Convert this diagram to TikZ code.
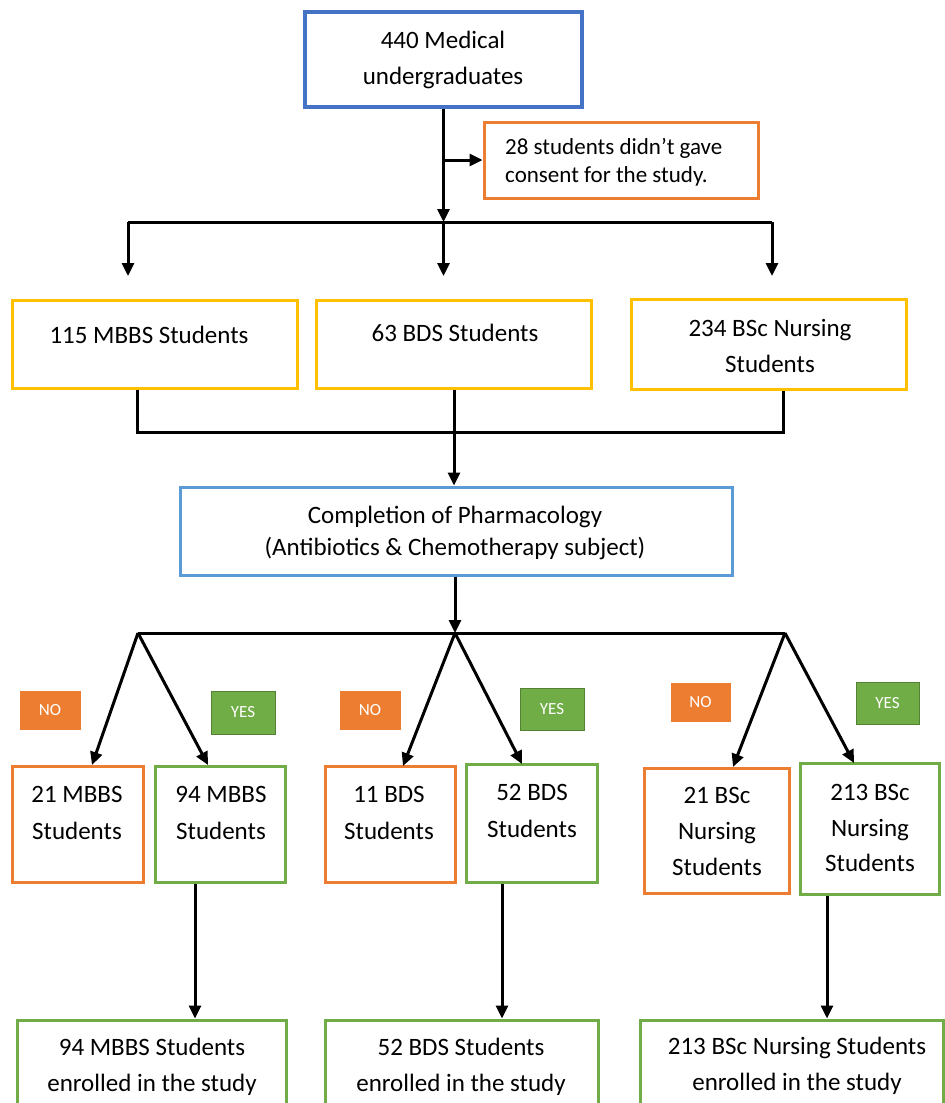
\documentclass[tikz,border=0pt]{standalone}
\usepackage{fontspec}
\setmainfont{Carlito}
\usetikzlibrary{arrows.meta}
\definecolor{cblue}{HTML}{4472C4}
\definecolor{clblue}{HTML}{5B9BD5}
\definecolor{corange}{HTML}{ED7D31}
\definecolor{cgold}{HTML}{FFC000}
\definecolor{cgreen}{HTML}{70AD47}
\definecolor{cdgreen}{HTML}{548235}
\begin{document}
\begin{tikzpicture}[x=1pt,y=-1pt,
  boxx/.style={draw, line width=3pt, inner sep=0pt, fill=white},
  txt/.style={inner sep=0pt, align=center, font=\fontsize{25}{36.5}\selectfont},
  tagno/.style={fill=corange, draw=corange, line width=1pt, inner sep=0pt, text=white, font=\fontsize{17}{20}\selectfont},
  tagyes/.style={fill=cgreen, draw=cdgreen, line width=1pt, inner sep=0pt, text=white, font=\fontsize{17}{20}\selectfont},
  link/.style={line width=3pt},
  conn/.style={line width=3pt, -{Triangle[length=13pt,width=12pt]}}]
\useasboundingbox (0,0) rectangle (945,1103);

% top
\node[boxx, draw=cblue, line width=3.5pt, minimum width=277pt, minimum height=95pt] (top) at (443.5,59.5) {};
\node[txt] (ttop) at (443,60) {440 Medical\\undergraduates};
\node[boxx, draw=corange, minimum width=274pt, minimum height=76pt] (consent) at (621,160) {};
\node[txt, anchor=west, align=left, font=\fontsize{23}{28}\selectfont] (tconsent) at (505,162) {28 students didn’t gave\\consent for the study.};

% yellow row
\node[boxx, draw=cgold, minimum width=285pt, minimum height=88pt] (y1) at (154.5,344) {};
\node[txt] (ty1) at (149,335) {115 MBBS Students};
\node[boxx, draw=cgold, minimum width=275pt, minimum height=88pt] (y2) at (453.5,344) {};
\node[txt] (ty2) at (455,333) {63 BDS Students};
\node[boxx, draw=cgold, minimum width=275pt, minimum height=90pt] (y3) at (768.5,344) {};
\node[txt] (ty3) at (770,346) {234 BSc Nursing\\Students};

% pharmacology
\node[boxx, draw=clblue, minimum width=552pt, minimum height=88pt] (pharm) at (456,531) {};
\node[txt, font=\fontsize{25}{32}\selectfont] (tpharm) at (455,533) {Completion of Pharmacology\\(Antibiotics \& Chemotherapy subject)};

% tags
\node[tagno, minimum width=60pt, minimum height=38pt] (no1) at (50,710) {NO};
\node[tagyes, minimum width=64pt, minimum height=43pt] (yes1) at (243,712.5) {YES};
\node[tagno, minimum width=60pt, minimum height=38pt] (no2) at (370,710) {NO};
\node[tagyes, minimum width=64pt, minimum height=42pt] (yes2) at (552,709) {YES};
\node[tagno, minimum width=59pt, minimum height=38pt] (no3) at (700.5,702) {NO};
\node[tagyes, minimum width=63pt, minimum height=42pt] (yes3) at (887.5,703) {YES};

% bottom row
\node[boxx, draw=corange, minimum width=131pt, minimum height=116pt] (b1) at (77.5,824) {};
\node[txt] (tb1) at (77,813) {21 MBBS\\Students};
\node[boxx, draw=cgreen, minimum width=130pt, minimum height=116pt] (b2) at (220,824) {};
\node[txt] (tb2) at (221,813) {94 MBBS\\Students};
\node[boxx, draw=corange, minimum width=130pt, minimum height=116pt] (b3) at (390,824) {};
\node[txt] (tb3) at (389,813) {11 BDS\\Students};
\node[boxx, draw=cgreen, minimum width=131pt, minimum height=118pt] (b4) at (531.5,823) {};
\node[txt] (tb4) at (532,811) {52 BDS\\Students};
\node[boxx, draw=corange, minimum width=145pt, minimum height=125pt] (b5) at (716.5,830.5) {};
\node[txt, font=\fontsize{25}{36}\selectfont] (tb5) at (717,831) {21 BSc\\Nursing\\Students};
\node[boxx, draw=cgreen, minimum width=139pt, minimum height=131pt] (b6) at (869.5,828.5) {};
\node[txt, font=\fontsize{25}{35.5}\selectfont] (tb6) at (870,828) {213 BSc\\Nursing\\Students};

% final row
\node[boxx, draw=cgreen, minimum width=269pt, minimum height=110pt] (f1) at (151.5,1075) {};
\node[txt] (tf1) at (152,1067) {94 MBBS Students\\enrolled in the study};
\node[boxx, draw=cgreen, minimum width=273pt, minimum height=110pt] (f2) at (461.5,1075) {};
\node[txt] (tf2) at (461,1067) {52 BDS Students\\enrolled in the study};
\node[boxx, draw=cgreen, minimum width=303pt, minimum height=110pt] (f3) at (791.5,1075) {};
\node[txt] (tf3) at (797,1066) {213 BSc Nursing Students\\enrolled in the study};

% coordinates
\coordinate (h1) at (0,222);
\coordinate (hl) at (128,222);
\coordinate (hr) at (772,222);
\coordinate (a1) at (128,276);
\coordinate (a3) at (772,276);
\coordinate (k1) at (137,432);
\coordinate (k2) at (454,432);
\coordinate (k3) at (783,432);
\coordinate (m1) at (138,633);
\coordinate (m2) at (455,633);
\coordinate (m3) at (785,633);
\coordinate (e1) at (92,765);
\coordinate (e2) at (208,765);
\coordinate (e3) at (403,766);
\coordinate (e4) at (522,764);
\coordinate (e5) at (733,767);
\coordinate (e6) at (854,763);
\coordinate (n1) at (195,0);
\coordinate (n2) at (502,0);
\coordinate (n3) at (827,0);

% top connectors
\draw[conn] (top.south) -- (top.south |- h1);
\draw[conn] (top.south |- consent.west) -- (consent.west);
\draw[link] (hl) -- (hr);
\draw[conn] (hl) -- (a1);
\draw[conn] (top.south |- h1) -- (top.south |- a1);
\draw[conn] (hr) -- (a3);

% yellow to pharmacology
\draw[link] (k1 |- y1.south) -- (k1) -- (k3) -- (k3 |- y3.south);
\draw[conn] (k2 |- y2.south) -- (k2 |- pharm.north);

% pharmacology to branches
\draw[conn] (pharm.south -| m2) -- (m2);
\draw[link] (m1) -- (m3);
\draw[conn] (m1) -- (e1);
\draw[conn] (m1) -- (e2);
\draw[conn] (m2) -- (e3);
\draw[conn] (m2) -- (e4);
\draw[conn] (m3) -- (e5);
\draw[conn] (m3) -- (e6);

% to final
\draw[conn] (b2.south -| n1) -- (f1.north -| n1);
\draw[conn] (b4.south -| n2) -- (f2.north -| n2);
\draw[conn] (b6.south -| n3) -- (f3.north -| n3);
\end{tikzpicture}
\end{document}
